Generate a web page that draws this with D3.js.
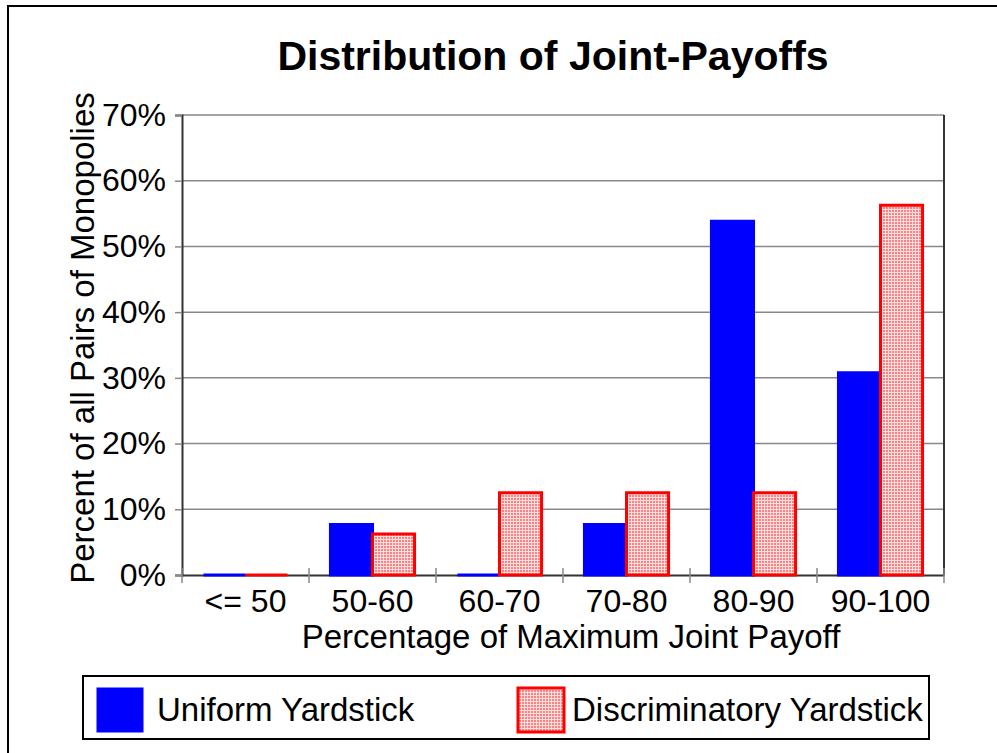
<!DOCTYPE html>
<html>
<head>
<meta charset="utf-8">
<script src="https://cdn.jsdelivr.net/npm/d3@7"></script>
<style>
  body { margin: 0; background: #fff; }
  text { font-family: Arial, "Liberation Sans", sans-serif; fill: #000; }
</style>
</head>
<body>
<div id="chart"></div>
<script>
// chart data
const categories = ["<= 50", "50-60", "60-70", "70-80", "80-90", "90-100"];
const uniform = [0, 7.69, 0, 7.69, 53.85, 30.77];
const discriminatory = [0, 6.25, 12.5, 12.5, 12.5, 56.25];
const seriesNames = ["Uniform Yardstick", "Discriminatory Yardstick"];
const yTicks = [0, 10, 20, 30, 40, 50, 60, 70];

const W = 997, H = 753;
const plot = {left: 182, top: 115, right: 944, bottom: 575};

const svg = d3.select("#chart")
  .append("svg")
    .attr("width", W)
    .attr("height", H);

// hatch pattern for the red series
const defs = svg.append("defs");
const pat = defs.append("pattern")
    .attr("id", "hatch")
    .attr("patternUnits", "userSpaceOnUse")
    .attr("width", 3)
    .attr("height", 3);
pat.append("rect").attr("width", 3).attr("height", 3).attr("fill", "#ffe0e0");
pat.append("rect").attr("width", 2).attr("height", 2).attr("fill", "#ff8080");

// outer frame (runs off the picture at right and bottom)
svg.append("rect")
    .attr("x", 8).attr("y", 6)
    .attr("width", 1000).attr("height", 760)
    .attr("fill", "none")
    .attr("stroke", "#000")
    .attr("stroke-width", 2);

// title
svg.append("text")
    .attr("x", 553).attr("y", 70)
    .attr("text-anchor", "middle")
    .style("font-size", "41px")
    .style("font-weight", "bold")
    .text("Distribution of Joint-Payoffs");

// scales
const x = d3.scaleBand()
    .domain(categories)
    .range([plot.left, plot.right]);

const xSub = d3.scaleBand()
    .domain(seriesNames)
    .range([0, x.bandwidth()])
    .paddingOuter(0.51);

const y = d3.scaleLinear()
    .domain([0, 70])
    .range([plot.bottom, plot.top]);

// gridlines
svg.append("g")
  .selectAll("line")
  .data(yTicks.filter(d => d > 0))
  .join("line")
    .attr("x1", plot.left).attr("x2", plot.right)
    .attr("y1", d => y(d)).attr("y2", d => y(d))
    .attr("stroke", "#888")
    .attr("stroke-width", 1.5);

// y axis
const yAxis = svg.append("g")
    .attr("transform", `translate(${plot.left},0)`)
    .call(d3.axisLeft(y).tickValues(yTicks).tickFormat(d => d + "%").tickSize(7).tickPadding(9));
yAxis.select(".domain").attr("stroke", "#333").attr("stroke-width", 2);
yAxis.selectAll(".tick line").attr("stroke", "#888").attr("stroke-width", 1.5);
yAxis.selectAll(".tick text")
    .attr("font-family", null)
    .attr("font-size", null)
    .style("font-size", "32px");

// right frame line
svg.append("line")
    .attr("x1", plot.right).attr("x2", plot.right)
    .attr("y1", plot.top).attr("y2", plot.bottom)
    .attr("stroke", "#333").attr("stroke-width", 2);

// x axis
const xAxis = svg.append("g")
    .attr("transform", `translate(0,${plot.bottom})`)
    .call(d3.axisBottom(x).tickSize(0).tickPadding(14));
xAxis.select(".domain").attr("stroke", "#333").attr("stroke-width", 2);
xAxis.selectAll(".tick text")
    .attr("font-family", null)
    .attr("font-size", null)
    .style("font-size", "32px");

// category separator ticks
svg.append("g")
  .selectAll("line")
  .data(categories.concat(["end"]))
  .join("line")
    .attr("x1", (d, i) => plot.left + i * x.step())
    .attr("x2", (d, i) => plot.left + i * x.step())
    .attr("y1", plot.bottom - 7).attr("y2", plot.bottom + 8)
    .attr("stroke", "#888").attr("stroke-width", 1.5);

// bars, drawn as paths so zero-height bars still show their outline
const barPath = (x0, w, v) => {
  const y0 = y(0), y1 = y(v);
  return `M${x0},${y0}V${y1}H${x0 + w}V${y0}Z`;
};

const rows = categories.map((c, i) => ({cat: c, vals: [uniform[i], discriminatory[i]]}));

const groups = svg.append("g")
  .selectAll("g")
  .data(rows)
  .join("g")
    .attr("transform", d => `translate(${x(d.cat)},0)`);

groups.append("path")
    .attr("d", d => barPath(xSub(seriesNames[0]), xSub.bandwidth(), d.vals[0]))
    .attr("fill", "#0000ff")
    .attr("stroke", "#0000ff")
    .attr("stroke-width", 3);

groups.append("path")
    .attr("d", d => barPath(xSub(seriesNames[1]), xSub.bandwidth(), d.vals[1]))
    .attr("fill", "url(#hatch)")
    .attr("stroke", "#ff0000")
    .attr("stroke-width", 3);

// axis titles
svg.append("text")
    .attr("x", 571).attr("y", 648)
    .attr("text-anchor", "middle")
    .style("font-size", "33px")
    .text("Percentage of Maximum Joint Payoff");

svg.append("text")
    .attr("transform", "translate(94,338) rotate(-90)")
    .attr("text-anchor", "middle")
    .style("font-size", "33px")
    .text("Percent of all Pairs of Monopolies");

// legend
const legend = svg.append("g");
legend.append("rect")
    .attr("x", 83).attr("y", 676)
    .attr("width", 846).attr("height", 63)
    .attr("fill", "#fff")
    .attr("stroke", "#000")
    .attr("stroke-width", 2);

const legendItems = [
  {name: seriesNames[0], x: 97, tx: 157, fill: "#0000ff", stroke: "#0000ff", sw: 1},
  {name: seriesNames[1], x: 518, tx: 572, fill: "url(#hatch)", stroke: "#ff0000", sw: 3}
];

const li = legend.selectAll("g.item")
  .data(legendItems)
  .join("g")
    .attr("class", "item");

li.append("rect")
    .attr("x", d => d.x).attr("y", 688)
    .attr("width", 46).attr("height", 44)
    .attr("fill", d => d.fill)
    .attr("stroke", d => d.stroke)
    .attr("stroke-width", d => d.sw);

li.append("text")
    .attr("x", d => d.tx).attr("y", 721)
    .style("font-size", "33px")
    .text(d => d.name);
</script>
</body>
</html>
